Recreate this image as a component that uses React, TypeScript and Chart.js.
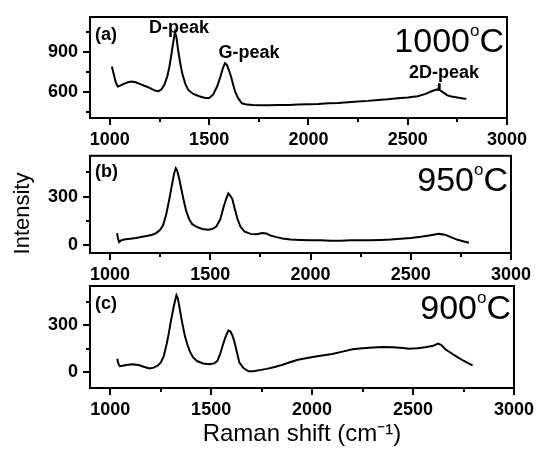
import React, { useEffect, useRef } from "react";
import { Chart, registerables } from "chart.js";

Chart.register(...registerables);

// ---------- data ----------
const shiftA = [1010, 1020, 1030, 1040, 1050, 1070, 1090, 1110, 1130, 1150, 1170, 1190, 1210, 1230, 1245, 1260, 1275, 1290, 1300, 1310, 1320, 1328, 1335, 1345, 1355, 1365, 1380, 1395, 1420, 1450, 1480, 1500, 1520, 1540, 1555, 1570, 1580, 1590, 1600, 1610, 1620, 1630, 1645, 1665, 1690, 1720, 1760, 1800, 1850, 1900, 1950, 2000, 2050, 2100, 2150, 2200, 2250, 2300, 2350, 2400, 2450, 2500, 2550, 2590, 2620, 2645, 2655, 2658, 2661, 2680, 2700, 2720, 2750, 2780, 2795];
const intensityA = [790, 730, 670, 640, 645, 660, 672, 677, 672, 660, 648, 637, 622, 608, 605, 620, 655, 720, 790, 880, 980, 1045, 1010, 900, 810, 735, 660, 615, 585, 568, 555, 555, 580, 640, 705, 780, 815, 800, 760, 715, 660, 605, 555, 515, 505, 502, 500, 500, 502, 502, 505, 508, 510, 515, 518, 523, 528, 533, 540, 545, 552, 558, 568, 585, 605, 618, 616, 665, 614, 595, 575, 565, 558, 550, 548];

const shiftB = [1035, 1040, 1045, 1055, 1070, 1100, 1130, 1160, 1190, 1210, 1230, 1250, 1265, 1280, 1295, 1310, 1320, 1328, 1335, 1345, 1355, 1365, 1380, 1395, 1410, 1430, 1460, 1490, 1510, 1530, 1550, 1565, 1580, 1590, 1600, 1610, 1620, 1635, 1650, 1670, 1700, 1730, 1760, 1780, 1800, 1830, 1860, 1900, 1950, 2000, 2050, 2100, 2150, 2200, 2250, 2300, 2350, 2400, 2450, 2500, 2550, 2600, 2640, 2670, 2700, 2730, 2760, 2790];
const intensityB = [75, 40, 20, 30, 35, 40, 45, 52, 58, 65, 75, 95, 125, 190, 280, 380, 445, 475, 460, 410, 350, 290, 210, 160, 130, 115, 100, 95, 100, 115, 160, 230, 290, 320, 305, 285, 235, 165, 115, 85, 70, 68, 75, 72, 60, 50, 42, 35, 33, 30, 30, 28, 28, 30, 30, 30, 32, 35, 40, 45, 52, 62, 70, 65, 50, 35, 25, 15];

const shiftC = [1035, 1040, 1048, 1060, 1080, 1110, 1140, 1170, 1195, 1215, 1235, 1250, 1265, 1280, 1290, 1300, 1315, 1328, 1335, 1345, 1355, 1370, 1385, 1395, 1410, 1430, 1460, 1490, 1515, 1530, 1545, 1555, 1570, 1585, 1595, 1605, 1615, 1625, 1640, 1660, 1685, 1710, 1740, 1775, 1810, 1850, 1890, 1930, 1970, 2010, 2050, 2100, 2150, 2200, 2250, 2300, 2350, 2400, 2450, 2480, 2520, 2560, 2600, 2625, 2640, 2660, 2690, 2720, 2750, 2775, 2795];
const intensityC = [85, 55, 38, 40, 45, 50, 45, 32, 22, 28, 40, 60, 100, 180, 245, 320, 420, 490, 470, 400, 325, 230, 165, 130, 95, 70, 55, 50, 55, 70, 115, 160, 220, 265, 260, 235, 195, 140, 60, 25, 5, 5, 12, 20, 30, 45, 62, 78, 88, 98, 105, 115, 130, 145, 152, 157, 160, 158, 153, 148, 152, 158, 168, 182, 172, 145, 120, 95, 72, 55, 42];

const xMajorTicks = [1000, 1500, 2000, 2500, 3000];
const xMinorTicks = [1250, 1750, 2250, 2750];
const yMajorA = [600, 900];
const yMinorA = [450, 750, 1050];
const yMajorBC = [0, 300];
const yMinorBC = [150, 450];

const temperatureLabels = ["1000", "950", "900"];
const panelLetters = ["(a)", "(b)", "(c)"];
const peakLabels = ["D-peak", "G-peak", "2D-peak"];
const peakLabelShift = [1348, 1701, 2683];
const peakLabelIntensity = [1042, 855, 705];

const yAxisTitle = "Intensity";
const xAxisTitle = "Raman shift (cm\u207B\u00B9)";

// ---------- layout ----------
const FONT = "'Liberation Sans', Arial, Helvetica, sans-serif";

const panels = [
  { x: shiftA, y: intensityA, yMin: 405, yMax: 1160, yMajor: yMajorA, yMinor: yMinorA, top: 0, h: 152, padTop: 17, padRight: 31, xAxisH: 34, tempBase: 35, letterOff: 18, showTitle: false, peaks: true, intensity: false },
  { x: shiftB, y: intensityB, yMin: -48, yMax: 552, yMajor: yMajorBC, yMinor: yMinorBC, top: 140, h: 150, padTop: 13, padRight: 27, xAxisH: 37, tempBase: 35, letterOff: 16, showTitle: false, peaks: false, intensity: true },
  { x: shiftC, y: intensityC, yMin: -102, yMax: 549, yMajor: yMajorBC, yMinor: yMinorBC, top: 270, h: 179, padTop: 16, padRight: 23, xAxisH: 61, tempBase: 33, letterOff: 18, showTitle: true, peaks: false, intensity: false },
];

function makeConfig(p: any, idx: number) {
  const tickFont = { family: FONT, size: 18, weight: "bold" as const };
  const decor = {
    id: "decor" + idx,
    afterDraw(chart: any) {
      const { ctx, chartArea, scales } = chart;
      const { left, top, right, bottom } = chartArea;
      ctx.save();
      // frame
      ctx.strokeStyle = "#000";
      ctx.lineWidth = 2;
      ctx.strokeRect(left, top, right - left, bottom - top);
      // minor ticks
      ctx.beginPath();
      xMinorTicks.forEach((v) => {
        const px = Math.round(scales.x.getPixelForValue(v));
        ctx.moveTo(px, bottom);
        ctx.lineTo(px, bottom + 4);
      });
      p.yMinor.forEach((v: number) => {
        const py = Math.round(scales.y.getPixelForValue(v));
        ctx.moveTo(left, py);
        ctx.lineTo(left - 4, py);
      });
      ctx.stroke();

      ctx.fillStyle = "#000";
      // panel letter
      ctx.font = `bold 18px ${FONT}`;
      ctx.textAlign = "left";
      ctx.textBaseline = "middle";
      ctx.fillText(panelLetters[idx], left + 5, top + p.letterOff);

      // temperature label with superscript o
      const base = top + p.tempBase;
      const bigFont = `34px ${FONT}`;
      const smallFont = `17px ${FONT}`;
      ctx.textBaseline = "alphabetic";
      ctx.font = bigFont;
      const wNum = ctx.measureText(temperatureLabels[idx]).width;
      const wC = ctx.measureText("C").width;
      ctx.font = smallFont;
      const wO = ctx.measureText("o").width;
      let x = right - 3 - wC - wO - wNum;
      ctx.font = bigFont;
      ctx.fillText(temperatureLabels[idx], x, base);
      x += wNum;
      ctx.font = smallFont;
      ctx.fillText("o", x, base - 16);
      x += wO;
      ctx.font = bigFont;
      ctx.fillText("C", x, base);

      // peak labels
      if (p.peaks) {
        ctx.font = `bold 18px ${FONT}`;
        ctx.textAlign = "center";
        peakLabels.forEach((t, i) => {
          ctx.fillText(t, scales.x.getPixelForValue(peakLabelShift[i]), scales.y.getPixelForValue(peakLabelIntensity[i]));
        });
      }

      // shared y title
      if (p.intensity) {
        ctx.save();
        ctx.translate(29, 73.5);
        ctx.rotate(-Math.PI / 2);
        ctx.font = `22px ${FONT}`;
        ctx.textAlign = "center";
        ctx.textBaseline = "alphabetic";
        ctx.fillText(yAxisTitle, 0, 0);
        ctx.restore();
      }
      ctx.restore();
    },
  };

  return {
    type: "line" as const,
    data: {
      datasets: [
        {
          data: p.x.map((v: number, i: number) => ({ x: v, y: p.y[i] })),
          borderColor: "#000",
          borderWidth: 2,
          pointRadius: 0,
          tension: 0,
          fill: false,
        },
      ],
    },
    options: {
      animation: false as const,
      responsive: false,
      maintainAspectRatio: false,
      layout: { padding: { top: p.padTop, right: p.padRight, left: 0, bottom: 0 } },
      plugins: { legend: { display: false }, tooltip: { enabled: false }, title: { display: false } },
      scales: {
        x: {
          type: "linear" as const,
          min: 900,
          max: 3000,
          afterBuildTicks: (s: any) => {
            s.ticks = xMajorTicks.map((v) => ({ value: v }));
          },
          afterFit: (s: any) => {
            s.height = p.xAxisH;
          },
          ticks: { font: tickFont, color: "#000", padding: 4, maxRotation: 0, autoSkip: false, callback: (v: any) => String(v) },
          grid: { drawOnChartArea: false, drawTicks: true, tickLength: 7, tickWidth: 2, tickColor: "#000", lineWidth: 2 },
          border: { display: true, width: 2, color: "#000" },
          title: {
            display: p.showTitle,
            text: xAxisTitle,
            color: "#000",
            font: { family: FONT, size: 24, weight: "normal" as const },
            padding: { top: 0, bottom: 0 },
          },
        },
        y: {
          type: "linear" as const,
          min: p.yMin,
          max: p.yMax,
          afterBuildTicks: (s: any) => {
            s.ticks = p.yMajor.map((v: number) => ({ value: v }));
          },
          afterFit: (s: any) => {
            s.width = 90;
          },
          ticks: { font: tickFont, color: "#000", padding: 5, callback: (v: any) => String(v) },
          grid: { drawOnChartArea: false, drawTicks: true, tickLength: 7, tickWidth: 2, tickColor: "#000", lineWidth: 2 },
          border: { display: true, width: 2, color: "#000" },
        },
      },
    },
    plugins: [decor],
  };
}

export default function App() {
  const r0 = useRef<HTMLCanvasElement>(null);
  const r1 = useRef<HTMLCanvasElement>(null);
  const r2 = useRef<HTMLCanvasElement>(null);
  const refs = [r0, r1, r2];

  useEffect(() => {
    const charts = panels.map((p, i) => new Chart(refs[i].current as HTMLCanvasElement, makeConfig(p, i) as any));
    return () => charts.forEach((c) => c.destroy());
  }, []);

  return (
    <div style={{ position: "absolute", left: 0, top: 0, width: 538, height: 449, background: "#fff", overflow: "hidden" }}>
      {panels.map((p, i) => (
        <canvas
          key={i}
          ref={refs[i]}
          width={538}
          height={p.h}
          style={{ position: "absolute", left: 0, top: p.top, width: 538, height: p.h }}
        />
      ))}
    </div>
  );
}
